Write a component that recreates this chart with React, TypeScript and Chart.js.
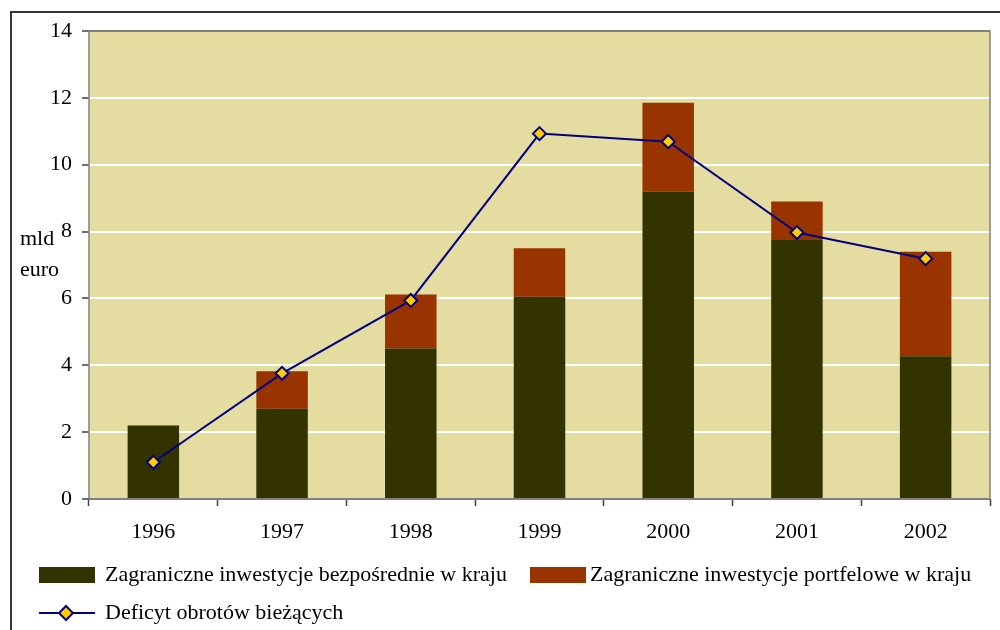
import React, { useEffect, useRef } from "react";
import { Chart, registerables } from "chart.js";

Chart.register(...registerables);

const years = ["1996", "1997", "1998", "1999", "2000", "2001", "2002"];
const fdi = [2.2, 2.7, 4.5, 6.05, 9.2, 7.75, 4.27];
const portfolio = [0, 1.12, 1.62, 1.45, 2.65, 1.15, 3.13];
const deficit = [1.1, 3.76, 5.94, 10.93, 10.69, 7.97, 7.19];
const yTicks = [0, 2, 4, 6, 8, 10, 12, 14];

const fdiLabel = "Zagraniczne inwestycje bezpośrednie w kraju";
const portLabel = "Zagraniczne inwestycje portfelowe w kraju";
const deficitLabel = "Deficyt obrotów bieżących";
const yTitle = ["mld", "euro"];

const FONT = "'Liberation Serif', 'Times New Roman', serif";
const FS = 22;
const DARK = "#333300";
const RED = "#993300";
const NAVY = "#000080";
const YELLOW = "#FFCC00";
const BG = "#E4DCA0";
const AXIS = "#808080";

export default function App() {
  const ref = useRef<HTMLCanvasElement | null>(null);

  useEffect(() => {
    if (!ref.current) return;
    const decor = {
      id: "decor",
      beforeDraw(chart: any) {
        const { ctx, chartArea: a } = chart;
        ctx.save();
        ctx.fillStyle = "#ffffff";
        ctx.fillRect(0, 0, chart.width, chart.height);
        ctx.fillStyle = BG;
        ctx.fillRect(a.left, a.top, a.right - a.left, a.bottom - a.top);
        ctx.restore();
      },
      afterDraw(chart: any) {
        const { ctx, chartArea: a } = chart;
        ctx.save();
        // plot border
        ctx.strokeStyle = AXIS;
        ctx.lineWidth = 1.5;
        ctx.strokeRect(a.left, a.top, a.right - a.left, a.bottom - a.top);
        // outer frame
        ctx.strokeStyle = "#333333";
        ctx.lineWidth = 2;
        ctx.beginPath();
        ctx.moveTo(1000, 12);
        ctx.lineTo(11, 12);
        ctx.lineTo(11, 630);
        ctx.stroke();
        // y title
        ctx.fillStyle = "#000";
        ctx.font = `${FS}px ${FONT}`;
        ctx.textAlign = "left";
        ctx.textBaseline = "alphabetic";
        ctx.fillText(yTitle[0], 20, 245);
        ctx.fillText(yTitle[1], 20, 276);
        // legend
        ctx.textBaseline = "middle";
        ctx.fillStyle = DARK;
        ctx.fillRect(39, 567, 56, 16);
        ctx.fillStyle = RED;
        ctx.fillRect(530, 567, 56, 16);
        ctx.fillStyle = "#000";
        ctx.fillText(fdiLabel, 105, 575);
        ctx.fillText(portLabel, 590, 575);
        ctx.strokeStyle = NAVY;
        ctx.lineWidth = 2;
        ctx.beginPath();
        ctx.moveTo(39, 613);
        ctx.lineTo(95, 613);
        ctx.stroke();
        ctx.beginPath();
        ctx.moveTo(66, 606);
        ctx.lineTo(73, 613);
        ctx.lineTo(66, 620);
        ctx.lineTo(59, 613);
        ctx.closePath();
        ctx.fillStyle = YELLOW;
        ctx.fill();
        ctx.stroke();
        ctx.fillStyle = "#000";
        ctx.fillText(deficitLabel, 105, 613);
        ctx.restore();
      },
    };

    const chart = new Chart(ref.current, {
      type: "bar",
      data: {
        labels: years,
        datasets: [
          {
            type: "line",
            label: deficitLabel,
            data: deficit,
            borderColor: NAVY,
            borderWidth: 2,
            pointStyle: "rectRot",
            pointRadius: 6.5,
            pointBackgroundColor: YELLOW,
            pointBorderColor: NAVY,
            pointBorderWidth: 2,
            tension: 0,
            order: 0,
            stack: "line",
          } as any,
          {
            label: fdiLabel,
            data: fdi,
            backgroundColor: DARK,
            order: 1,
            stack: "bars",
          },
          {
            label: portLabel,
            data: portfolio,
            backgroundColor: RED,
            order: 1,
            stack: "bars",
          },
        ],
      },
      options: {
        animation: false,
        responsive: false,
        devicePixelRatio: 1,
        layout: { padding: { left: 0, top: 31, right: 10, bottom: 0 } },
        plugins: { legend: { display: false }, tooltip: { enabled: false } },
        datasets: { bar: { barPercentage: 0.4, categoryPercentage: 1 } },
        scales: {
          x: {
            stacked: true,
            offset: true,
            grid: {
              offset: true,
              drawOnChartArea: false,
              tickLength: 7,
              tickColor: "#404040",
              tickWidth: 1.5,
            },
            border: { display: false },
            ticks: { color: "#000", font: { family: FONT, size: FS }, padding: 13 },
            afterFit: (s: any) => {
              s.height = 131;
            },
          },
          y: {
            stacked: true,
            min: 0,
            max: 14,
            afterBuildTicks: (s: any) => {
              s.ticks = yTicks.map((v) => ({ value: v }));
            },
            grid: {
              color: (c: any) => (c.tick && (c.tick.value === 0 || c.tick.value === 14) ? AXIS : "#ffffff"),
              lineWidth: 2,
              tickLength: 7,
              tickColor: "#404040",
              tickWidth: 1.5,
            },
            border: { display: false },
            ticks: { color: "#000", font: { family: FONT, size: FS }, padding: 10 },
            afterFit: (s: any) => {
              s.width = 89;
            },
          },
        },
      },
      plugins: [decor],
    });
    return () => chart.destroy();
  }, []);

  return (
    <div style={{ position: "fixed", left: 0, top: 0, width: 1000, height: 630 }}>
      <canvas ref={ref} width={1000} height={630} style={{ display: "block" }} />
    </div>
  );
}
